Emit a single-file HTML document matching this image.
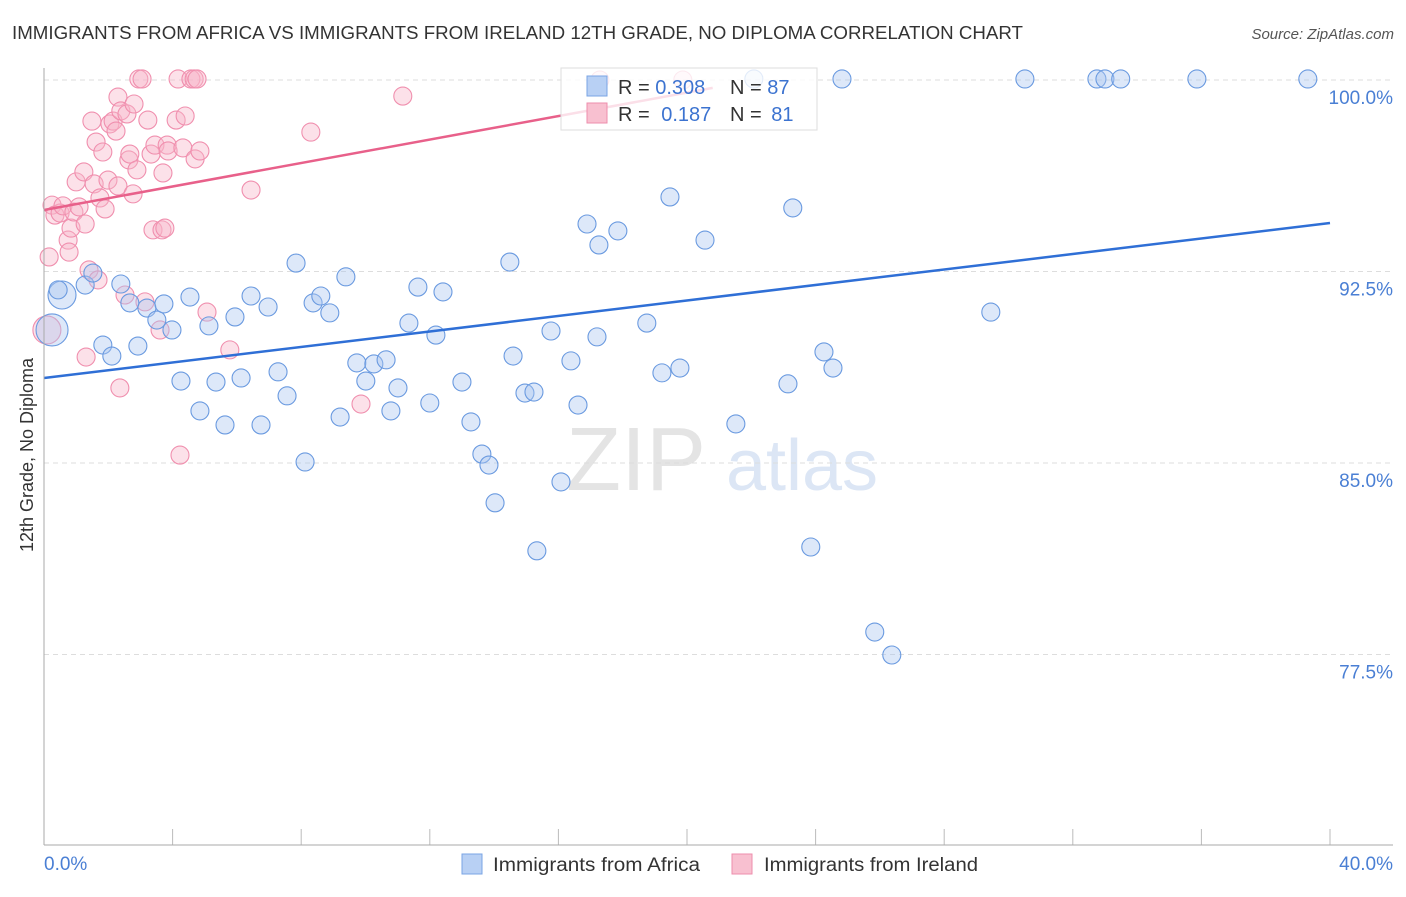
<!DOCTYPE html>
<html><head><meta charset="utf-8"><style>
body{margin:0;background:#fff;font-family:"Liberation Sans",sans-serif}
svg text{font-family:"Liberation Sans",sans-serif}
</style></head><body>
<svg id="c" width="1406" height="892">
<text x="12" y="39" font-size="18" fill="#333" textLength="1011" lengthAdjust="spacingAndGlyphs">IMMIGRANTS FROM AFRICA VS IMMIGRANTS FROM IRELAND 12TH GRADE, NO DIPLOMA CORRELATION CHART</text>
<text x="1394" y="39" font-size="15" fill="#555" text-anchor="end" font-style="italic">Source: ZipAtlas.com</text>
<text x="33" y="455" font-size="18" fill="#333" text-anchor="middle" transform="rotate(-90 33 455)">12th Grade, No Diploma</text>
<text x="636" y="490" font-size="90" fill="#e4e4e4" font-family="Liberation Serif" text-anchor="middle">ZIP</text>
<text x="802" y="490" font-size="72" fill="#dce6f5" text-anchor="middle">atlas</text>
<g id="grid"></g><g id="pts"></g><g id="lines"></g>
<line x1="44" y1="68" x2="44" y2="845" stroke="#aaa"/>
<line x1="44" y1="845" x2="1393" y2="845" stroke="#aaa"/>
<text x="44" y="870" font-size="19" fill="#4a7fd4">0.0%</text>
<text x="1393" y="870" font-size="19" fill="#4a7fd4" text-anchor="end">40.0%</text>
<g>
<rect x="561" y="68" width="256" height="62" fill="#fff" fill-opacity="0.8" stroke="#ddd"/>
<rect x="587" y="76" width="20" height="20" fill="#b8d0f4" stroke="#7aa4e4"/>
<rect x="587" y="103" width="20" height="20" fill="#f8c0d0" stroke="#ee8eac"/>
<text x="618" y="94" font-size="20" fill="#333">R = <tspan fill="#3c73d0">0.308</tspan></text>
<text x="730" y="94" font-size="20" fill="#333">N = <tspan fill="#3c73d0">87</tspan></text>
<text x="618" y="121" font-size="20" fill="#333">R = <tspan fill="#3c73d0" dx="6">0.187</tspan></text>
<text x="730" y="121" font-size="20" fill="#333">N = <tspan fill="#3c73d0" dx="4">81</tspan></text>
</g>
<g>
<rect x="462" y="854" width="20" height="20" fill="#b8d0f4" stroke="#7aa4e4"/>
<text x="493" y="871" font-size="19" fill="#333" textLength="207" lengthAdjust="spacingAndGlyphs">Immigrants from Africa</text>
<rect x="732" y="854" width="20" height="20" fill="#f8c0d0" stroke="#ee8eac"/>
<text x="764" y="871" font-size="19" fill="#333" textLength="214" lengthAdjust="spacingAndGlyphs">Immigrants from Ireland</text>
</g>
</svg>
<script>
const yTicks=[100,92.5,85,77.5];
const yTickLabels=["100.0%","92.5%","85.0%","77.5%"];
const africaX=[0.25,0.56,0.44,1.28,1.52,1.83,2.11,2.39,2.67,2.92,3.20,3.51,3.73,3.98,4.26,4.54,4.85,5.13,5.35,5.63,5.94,6.13,6.44,6.75,6.97,7.28,7.56,7.84,8.12,8.37,8.61,8.89,9.21,9.39,9.73,10.01,10.26,10.64,10.79,11.01,11.35,11.63,12.00,12.19,12.41,13.00,13.28,13.62,13.84,14.03,14.49,14.59,14.96,15.24,15.33,15.77,16.08,16.39,16.61,16.89,17.20,17.26,17.85,18.75,19.22,19.47,19.78,20.56,21.52,22.08,23.14,23.29,23.85,24.26,24.54,24.82,25.84,26.37,29.45,30.51,32.75,33.00,33.49,35.86,39.31];
const africaY=[90.21,91.58,91.78,91.97,92.44,89.62,89.19,92.01,91.27,89.58,91.07,90.60,91.23,90.21,88.21,91.50,87.04,90.37,88.17,86.49,90.72,88.33,91.54,86.49,91.11,88.57,87.63,92.83,85.04,91.27,91.54,90.88,86.80,92.29,88.92,88.21,88.88,89.04,87.04,87.94,90.48,91.89,87.35,90.01,91.70,88.17,86.61,85.35,84.92,83.44,92.87,89.19,87.74,87.78,81.56,90.17,84.26,89.00,87.27,94.36,89.94,93.54,94.09,90.48,88.53,95.42,88.72,93.73,86.53,100.04,88.10,94.99,81.71,89.35,88.72,100.04,78.38,77.48,90.91,100.04,100.04,100.04,100.04,100.04,100.04];
const africaR=[16,14,9,9,9,9,9,9,9,9,9,9,9,9,9,9,9,9,9,9,9,9,9,9,9,9,9,9,9,9,9,9,9,9,9,9,9,9,9,9,9,9,9,9,9,9,9,9,9,9,9,9,9,9,9,9,9,9,9,9,9,9,9,9,9,9,9,9,9,9,9,9,9,9,9,9,9,9,9,9,9,9,9,9,9];
const irelandX=[0.09,0.16,0.25,0.34,0.50,0.59,0.75,0.78,0.84,0.93,1.00,1.09,1.28,1.24,1.31,1.40,1.49,1.56,1.62,1.68,1.74,1.83,1.90,1.99,2.05,2.15,2.24,2.30,2.30,2.36,2.39,2.52,2.58,2.64,2.67,2.77,2.80,2.89,2.95,3.05,3.14,3.23,3.33,3.39,3.45,3.61,3.67,3.70,3.76,3.83,3.86,4.11,4.17,4.23,4.32,4.39,4.57,4.67,4.70,4.76,4.85,5.07,5.78,6.44,8.30,9.86,11.16,17.29,19.87];
const irelandY=[90.21,93.07,95.10,94.71,94.79,95.07,93.73,93.26,94.20,94.83,96.01,95.03,94.36,96.40,89.15,92.56,98.39,95.93,97.57,92.17,95.38,97.18,94.95,96.08,98.28,98.39,98.00,99.33,95.85,87.94,98.79,91.58,98.67,96.87,97.10,95.54,99.06,96.48,100.04,100.04,91.31,98.43,97.10,94.13,97.45,90.21,94.13,96.36,94.20,97.45,97.22,98.43,100.04,85.31,97.34,98.59,100.04,100.04,96.91,100.04,97.22,90.91,89.43,95.69,97.96,87.31,99.37,100.0,100.0];
const irelandR=[14,9,9,9,9,9,9,9,9,9,9,9,9,9,9,9,9,9,9,9,9,9,9,9,9,9,9,9,9,9,9,9,9,9,9,9,9,9,9,9,9,9,9,9,9,9,9,9,9,9,9,9,9,9,9,9,9,9,9,9,9,9,9,9,9,9,9,9,9];
const africaTrend=[88.33,94.40];
const irelandTrend=[94.91,99.69];
const irelandTrendEnd=20.8;
const xs=v=>44+v/40*1286;
const ys=v=>80+(100-v)/7.5*191.5;
const NS="http://www.w3.org/2000/svg";
function mk(t,a,p){const e=document.createElementNS(NS,t);for(const k in a)e.setAttribute(k,a[k]);p.appendChild(e);return e;}
const grid=document.getElementById('grid');
yTicks.forEach((t,i)=>{
 const l=mk('line',{x1:44,x2:1393,y1:ys(t),y2:ys(t),stroke:'#ddd','stroke-dasharray':'5,4'},grid);
 
 
 const tx=mk('text',{x:1393,y:ys(t)+24,'font-size':19,fill:'#4a7fd4','text-anchor':'end'},grid);
 tx.textContent=yTickLabels[i];
 
 
});
for(let i=1;i<=10;i++){
 const l=mk('line',{x1:xs(i*4),x2:xs(i*4),y1:829,y2:845,stroke:'#bbb'},grid);
 
 
}
const pts=document.getElementById('pts');
irelandX.forEach((x,i)=>{
 const c=mk('circle',{cx:xs(x),cy:ys(irelandY[i]),r:irelandR[i],fill:'#f8b4c8','fill-opacity':0.4,stroke:'#f08fae','stroke-width':1.1},pts);
 
 
});
africaX.forEach((x,i)=>{
 const c=mk('circle',{cx:xs(x),cy:ys(africaY[i]),r:africaR[i],fill:'#a9c6f0','fill-opacity':0.4,stroke:'#6a9ae0','stroke-width':1.1},pts);
 
 
});
const lines=document.getElementById('lines');
const bl=mk('line',{x1:xs(0),y1:ys(africaTrend[0]),x2:xs(40),y2:ys(africaTrend[1]),stroke:'#2f6fd6','stroke-width':2.5},lines);


const pl=mk('line',{x1:xs(0),y1:ys(irelandTrend[0]),x2:xs(irelandTrendEnd),y2:ys(irelandTrend[1]),stroke:'#e8608a','stroke-width':2.5},lines);


</script>
</body></html>
